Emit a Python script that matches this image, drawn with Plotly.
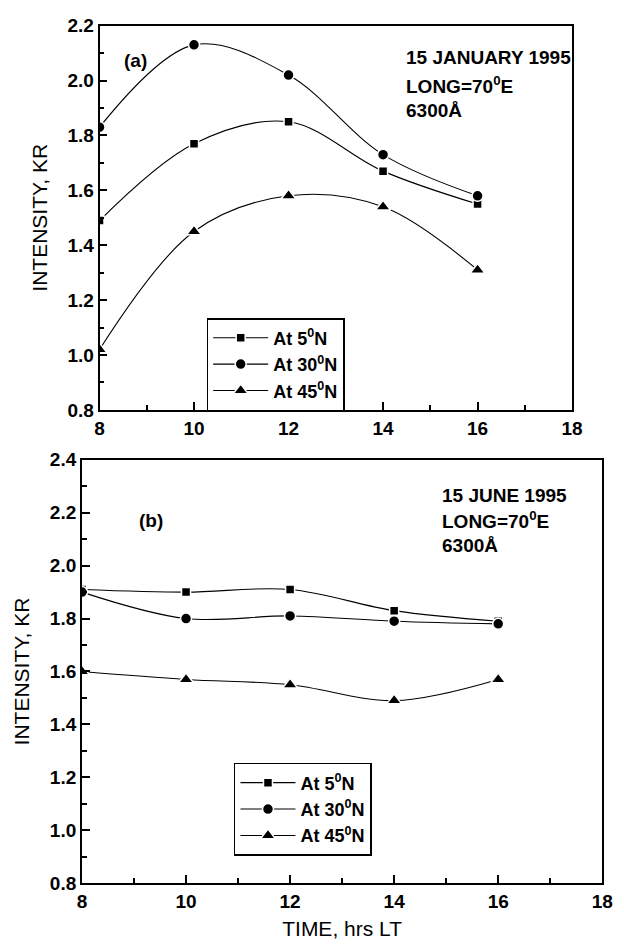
import plotly.graph_objects as go

# ---------------- data ----------------
hours = [8, 10, 12, 14, 16]
series_names = ["At 5<sup>0</sup>N", "At 30<sup>0</sup>N", "At 45<sup>0</sup>N"]
jan_5N = [1.49, 1.77, 1.85, 1.67, 1.55]
jan_30N = [1.83, 2.13, 2.02, 1.73, 1.58]
jan_45N = [1.02, 1.45, 1.58, 1.54, 1.31]
jun_5N = [1.91, 1.90, 1.91, 1.83, 1.79]
jun_30N = [1.90, 1.80, 1.81, 1.79, 1.78]
jun_45N = [1.60, 1.57, 1.55, 1.49, 1.57]
x_range = [8, 18]
y_range_a = [0.8, 2.2]
y_range_b = [0.8, 2.4]

W, H = 624, 947
def px(x):
    return x / W
def py(y):
    return 1 - y / H

FONT = "Liberation Sans, Arial, sans-serif"
symbols = ["square", "circle", "triangle-up"]
msizes = [9, 11, 13]

fig = go.Figure()

def add_series(vals_list, xa, ya, leg):
    for name, vals, sym, ms in zip(series_names, vals_list, symbols, msizes):
        fig.add_trace(go.Scatter(
            x=hours, y=vals, name=name, mode="lines+markers",
            line=dict(color="black", width=1.1, shape="spline", smoothing=1.0),
            marker=dict(symbol=sym, size=ms, color="black",
                        line=dict(color="white", width=1.5)),
            xaxis=xa, yaxis=ya, legend=leg,
        ))

add_series([jan_5N, jan_30N, jan_45N], "x", "y", "legend")
add_series([jun_5N, jun_30N, jun_45N], "x2", "y2", "legend2")

tickfont = dict(family=FONT, size=19, color="black", weight="bold")

def xaxis_cfg(dom):
    return dict(domain=dom, range=x_range, dtick=2,
                ticks="inside", ticklen=8, tickwidth=2, tickcolor="black",
                minor=dict(ticks="inside", dtick=1, ticklen=5,
                           tickwidth=2, tickcolor="black"),
                showline=True, mirror=True, linecolor="black", linewidth=1.8,
                showgrid=False, zeroline=False, tickfont=tickfont)

def yaxis_cfg(dom, rng, anchor):
    return dict(domain=dom, range=rng, dtick=0.2,
                tickformat=".1f", ticks="inside",
                ticklen=8, tickwidth=2, tickcolor="black",
                minor=dict(ticks="inside", dtick=0.1, ticklen=5,
                           tickwidth=2, tickcolor="black"),
                showline=True, mirror=True, linecolor="black", linewidth=1.8,
                showgrid=False, zeroline=False, tickfont=tickfont, anchor=anchor,
                title=dict(text="INTENSITY, KR", font=dict(family=FONT, size=21, color="black"),
                           standoff=14))

dom_xa = [px(97), px(582)]
dom_ya = [py(409), py(16)]
dom_xb = [px(79), px(613)]
dom_yb = [py(893), py(460)]

legfont = dict(family=FONT, size=18, color="black", weight="bold")

fig.update_layout(
    width=W, height=H,
    margin=dict(l=0, r=0, t=0, b=0),
    paper_bgcolor="white", plot_bgcolor="white",
    font=dict(family=FONT, color="black"),
    xaxis=dict(**xaxis_cfg(dom_xa), anchor="y"),
    yaxis=yaxis_cfg(dom_ya, y_range_a, "x"),
    xaxis2=dict(**xaxis_cfg(dom_xb), anchor="y2",
                title=dict(text="TIME, hrs LT", font=dict(family=FONT, size=21, color="black"),
                           standoff=10)),
    yaxis2=yaxis_cfg(dom_yb, y_range_b, "x2"),
    legend=dict(x=px(207), y=py(315), xanchor="left", yanchor="top",
                bgcolor="white", bordercolor="black", borderwidth=1.5,
                font=legfont, tracegroupgap=0, itemwidth=55),
    legend2=dict(x=px(235), y=py(770), xanchor="left", yanchor="top",
                 bgcolor="white", bordercolor="black", borderwidth=1.5,
                 font=legfont, tracegroupgap=0, itemwidth=55),
    showlegend=True,
)

afont = dict(family=FONT, size=19, color="black", weight="bold")
annots = [
    ("(a)", 120, 52),
    ("15 JANUARY 1995", 410, 49),
    ("LONG=70<sup>0</sup>E", 410, 77),
    ("6300Å", 410, 103),
    ("(b)", 135, 522),
    ("15 JUNE 1995", 446, 497),
    ("LONG=70<sup>0</sup>E", 446, 522),
    ("6300Å", 446, 548),
]
for txt, x, y in annots:
    fig.add_annotation(text=txt, xref="paper", yref="paper", x=px(x), y=py(y),
                       xanchor="left", yanchor="middle", showarrow=False, font=afont)

fig.write_html("out.html")
